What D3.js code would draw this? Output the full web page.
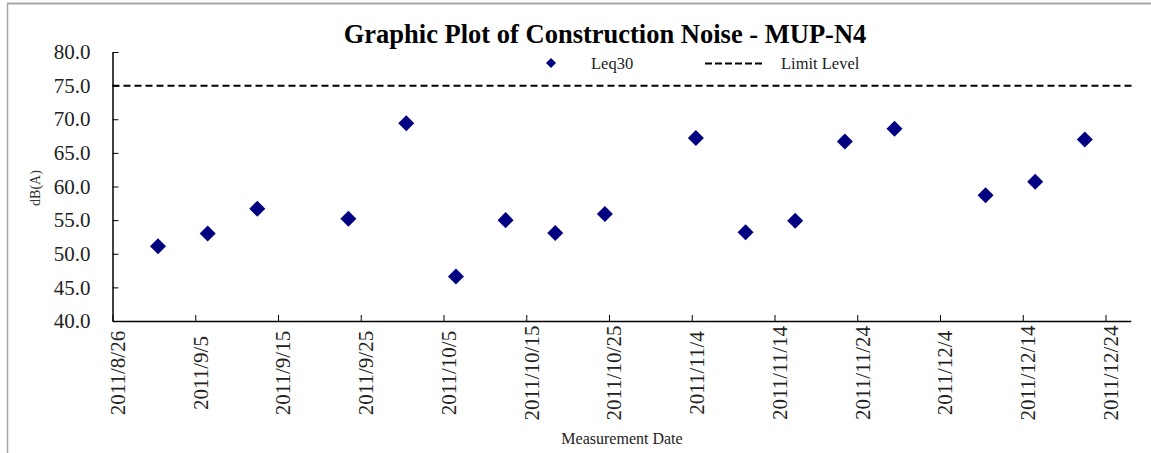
<!DOCTYPE html>
<html>
<head>
<meta charset="utf-8">
<script src="https://cdn.jsdelivr.net/npm/d3@7"></script>
<style>
  body { margin: 0; background: #fff; }
  text { font-family: "Liberation Serif", "Times New Roman", serif; }
</style>
</head>
<body>
<div id="chart"></div>
<script>
var width = 1151;
var height = 453;

// measurement dates (noon) and Leq30 readings
var dates = [
  "2011/08/31 12", "2011/09/06 12", "2011/09/12 12", "2011/09/23 12",
  "2011/09/30 12", "2011/10/06 12", "2011/10/12 12", "2011/10/18 12",
  "2011/10/24 12", "2011/11/04 12", "2011/11/10 12", "2011/11/16 12",
  "2011/11/22 12", "2011/11/28 12", "2011/12/09 12", "2011/12/15 12",
  "2011/12/21 12"
];
var leq30 = [51.1, 53.0, 56.7, 55.2, 69.4, 46.6, 55.0, 53.1, 55.9, 67.2,
             53.2, 54.9, 66.7, 68.6, 58.7, 60.7, 67.0];
var limitLevel = 75;

var tickDates = ["2011/08/26", "2011/09/05", "2011/09/15", "2011/09/25",
  "2011/10/05", "2011/10/15", "2011/10/25", "2011/11/04", "2011/11/14",
  "2011/11/24", "2011/12/04", "2011/12/14", "2011/12/24"];
var yTicks = [40, 45, 50, 55, 60, 65, 70, 75, 80];

var parseTime = d3.timeParse("%Y/%m/%d %H");
var parseDay = d3.timeParse("%Y/%m/%d");
var fmtDay = d3.timeFormat("%Y/%-m/%-d");

var points = dates.map(function(d, i) { return {date: parseTime(d), value: leq30[i]}; });

var svg = d3.select("#chart")
    .append("svg")
    .attr("width", width)
    .attr("height", height);

// outer frame (top and left edges only visible)
svg.append("line").attr("x1", 7).attr("x2", width).attr("y1", 3.5).attr("y2", 3.5)
    .attr("stroke", "#a6a6a6").attr("stroke-width", 2);
svg.append("line").attr("x1", 7.5).attr("x2", 7.5).attr("y1", 3).attr("y2", height)
    .attr("stroke", "#a6a6a6").attr("stroke-width", 1.5);

var x = d3.scaleTime()
    .domain([parseDay("2011/08/26"), parseTime("2011/12/27 01")])
    .range([112.5, 1130.7]);

var y = d3.scaleLinear()
    .domain([40, 80])
    .range([321, 52]);

// y axis
var yAxis = svg.append("g")
    .attr("transform", "translate(112.5,0)")
    .call(d3.axisLeft(y).tickValues(yTicks).tickFormat(d3.format(".1f"))
      .tickSizeInner(-6).tickSizeOuter(0).tickPadding(22));
yAxis.select(".domain").attr("stroke", "#000").attr("stroke-width", 1.5);
yAxis.selectAll(".tick line").attr("stroke", "#000");
yAxis.selectAll("text")
    .attr("font-family", "Liberation Serif")
    .attr("font-size", 21)
    .attr("fill", "#222");

// x axis
var xAxis = svg.append("g")
    .attr("transform", "translate(0,321)")
    .call(d3.axisBottom(x).tickValues(tickDates.map(parseDay)).tickFormat(fmtDay)
      .tickSizeInner(-6).tickSizeOuter(0));
xAxis.select(".domain").attr("stroke", "#000").attr("stroke-width", 1.5);
xAxis.selectAll(".tick line").attr("stroke", "#000");
xAxis.selectAll("text")
    .attr("font-family", "Liberation Serif")
    .attr("font-size", 21)
    .attr("fill", "#222")
    .attr("text-anchor", "middle")
    .attr("transform", "translate(4.5,52) rotate(-90)")
    .attr("x", 0)
    .attr("y", 0)
    .attr("dy", "0.35em");

// limit level line
svg.append("line")
    .attr("x1", x.range()[0])
    .attr("x2", x.range()[1] + 2)
    .attr("y1", y(limitLevel))
    .attr("y2", y(limitLevel))
    .attr("stroke", "#000")
    .attr("stroke-width", 2)
    .attr("stroke-dasharray", "7,4");

// data markers
var diamond = d3.symbol().type(d3.symbolSquare).size(128);
svg.selectAll(".pt")
    .data(points)
  .enter().append("path")
    .attr("class", "pt")
    .attr("d", diamond)
    .attr("fill", "#000080")
    .attr("transform", function(d) { return "translate(" + x(d.date) + "," + y(d.value) + ") rotate(45)"; });

// title
svg.append("text")
    .attr("x", 605)
    .attr("y", 43)
    .attr("text-anchor", "middle")
    .attr("font-size", 26.5)
    .attr("font-weight", "bold")
    .attr("fill", "#000")
    .text("Graphic Plot of Construction Noise - MUP-N4");

// legend
svg.append("path")
    .attr("d", d3.symbol().type(d3.symbolSquare).size(50))
    .attr("fill", "#000080")
    .attr("transform", "translate(551,63) rotate(45)");
svg.append("text").attr("x", 591).attr("y", 69)
    .attr("font-size", 16.5).attr("fill", "#222").text("Leq30");
svg.append("line")
    .attr("x1", 705).attr("x2", 765).attr("y1", 63.5).attr("y2", 63.5)
    .attr("stroke", "#000").attr("stroke-width", 2)
    .attr("stroke-dasharray", "7,3");
svg.append("text").attr("x", 781).attr("y", 69)
    .attr("font-size", 16.5).attr("fill", "#222").text("Limit Level");

// axis titles
svg.append("text")
    .attr("transform", "translate(40,188) rotate(-90)")
    .attr("text-anchor", "middle")
    .attr("font-size", 14)
    .attr("fill", "#333")
    .text("dB(A)");

svg.append("text")
    .attr("x", 622)
    .attr("y", 444)
    .attr("text-anchor", "middle")
    .attr("font-size", 16)
    .attr("fill", "#222")
    .text("Measurement Date");
</script>
</body>
</html>
